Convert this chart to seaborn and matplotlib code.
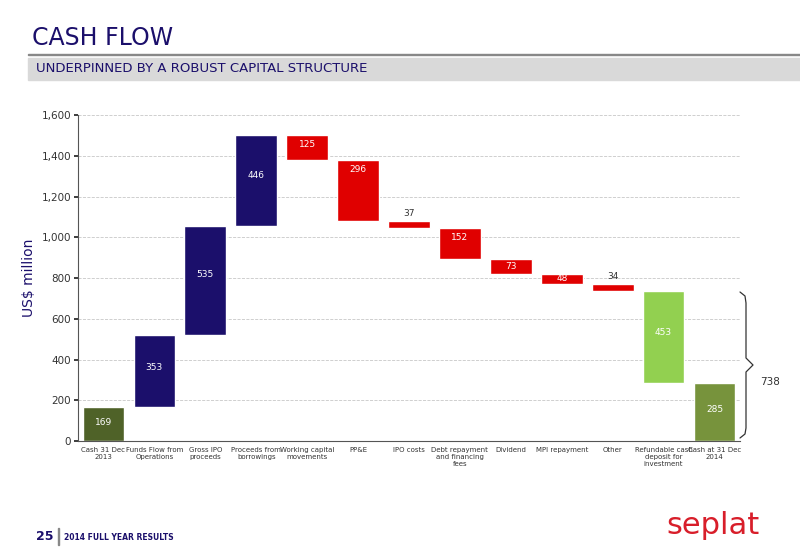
import numpy as np
import matplotlib.pyplot as plt
import seaborn as sns
from matplotlib.patches import Rectangle
from matplotlib.lines import Line2D

categories = ['Cash 31 Dec\n2013', 'Funds Flow from\nOperations', 'Gross IPO\nproceeds',
              'Proceeds from\nborrowings', 'Working capital\nmovements', 'PP&E', 'IPO costs',
              'Debt repayment\nand financing\nfees', 'Dividend', 'MPI repayment', 'Other',
              'Refundable cash\ndeposit for\ninvestment', 'Cash at 31 Dec\n2014']
changes = [169, 353, 535, 446, -125, -296, -37, -152, -73, -48, -34, -453, 285]
kinds = ['total', 'up', 'up', 'up', 'down', 'down', 'down', 'down', 'down', 'down', 'down', 'cash', 'end']

colors = {'total': '#4f6228', 'up': '#1b0f6b', 'down': '#e00000', 'cash': '#92d050', 'end': '#77933c'}

sns.set_theme(style='white')
fig = plt.figure(figsize=(8, 5.54), dpi=100)
ax = fig.add_axes([0.0975, 0.204, 0.8275, 0.588])

running = 0
bottoms, heights = [], []
for v, k in zip(changes, kinds):
    if k in ('total', 'end'):
        bottoms.append(0); heights.append(v); running = v
    elif v >= 0:
        bottoms.append(running); heights.append(v); running += v
    else:
        running += v
        bottoms.append(running); heights.append(-v)

x = np.arange(len(categories))
ax.bar(x, heights, bottom=bottoms, width=0.82, color=[colors[k] for k in kinds])
for i, (b, h, v) in enumerate(zip(bottoms, heights, changes)):
    lbl = str(abs(v))
    if h < 45:
        ax.text(i, b + h + 12, lbl, ha='center', va='bottom', fontsize=6.5, color='#333333')
    elif kinds[i] == 'down':
        ax.text(i, b + h - 45 if h > 80 else b + h / 2, lbl, ha='center', va='center',
                fontsize=6.5, color='white')
    else:
        ax.text(i, b + h * 0.55, lbl, ha='center', va='center', fontsize=6.5, color='white')

ax.set_xlim(-0.5, len(categories) - 0.5)
ax.set_ylim(0, 1600)
ax.set_yticks(range(0, 1601, 200))
ax.set_yticklabels([f'{t:,}' for t in range(0, 1601, 200)], fontsize=7.5, color='#333333')
ax.set_xticks(x)
ax.set_xticklabels(categories, fontsize=5, color='#333333', va='top')
ax.tick_params(axis='x', length=0, pad=4)
ax.tick_params(axis='y', length=3, left=True, pad=2)
ax.yaxis.grid(True, linestyle='--', color='#c8c8c8', linewidth=0.6)
ax.set_axisbelow(True)
for s in ['top', 'right']:
    ax.spines[s].set_visible(False)
for s in ['left', 'bottom']:
    ax.spines[s].set_color('#555555'); ax.spines[s].set_linewidth(0.8)
ax.set_ylabel('US$ million', fontsize=10, color='#1b0f6b')

# brace and 738 label (figure pixel coords -> fractions)
def fx(px): return px / 800
def fy(py): return (554 - py) / 554
bxs = [fx(p) for p in [740, 745, 746, 746, 753, 746, 746, 745, 740]]
bys = [fy(p) for p in [292, 296, 303, 358, 365, 372, 428, 434, 438]]
fig.add_artist(Line2D(bxs, bys, color='#333333', linewidth=0.9, transform=fig.transFigure))
fig.text(fx(760), fy(382), '738', fontsize=7.5, color='#333333', va='center')

# header
fig.text(0.04, fy(38), 'CASH FLOW', fontsize=17, color='#1b0f6b', va='center')
fig.add_artist(Rectangle((0.035, fy(55)), 0.965, 0.002, color='#888888',
                         transform=fig.transFigure))
fig.add_artist(Rectangle((0.035, fy(80)), 0.965, 22 / 554, color='#d9d9d9',
                         transform=fig.transFigure))
fig.text(0.045, fy(69), 'UNDERPINNED BY A ROBUST CAPITAL STRUCTURE', fontsize=9.5,
         color='#1b0f6b', va='center')

# footer
fig.text(0.045, fy(537), '25', fontsize=9, color='#1b0f6b', va='center', fontweight='bold')
fig.add_artist(Rectangle((0.072, fy(545)), 0.0015, 17 / 554, color='#888888',
                         transform=fig.transFigure))
fig.text(0.08, fy(537), '2014 FULL YEAR RESULTS', fontsize=5.5, color='#1b0f6b',
         va='center', fontweight='bold')
fig.text(0.95, fy(525), 'seplat', fontsize=22, color='#d81e2a', va='center', ha='right')

fig.savefig('out.png', dpi=100)
